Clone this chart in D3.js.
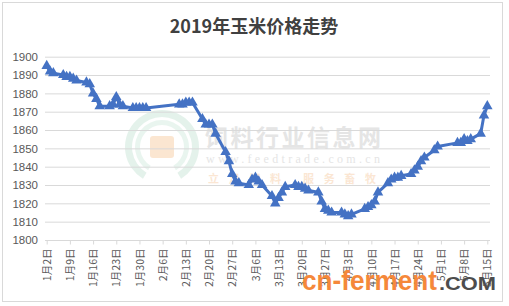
<!DOCTYPE html>
<html>
<head>
<meta charset="utf-8">
<script src="https://cdn.jsdelivr.net/npm/d3@7"></script>
<style>
  body { margin: 0; background: #fff; }
  svg { display: block; }
</style>
</head>
<body>
<svg id="chart" width="509" height="306"></svg>
<script>
(function(){

	// trading days (2019) and corn price
	var dates = [
		"01-02","01-03","01-04","01-07","01-08","01-09","01-10","01-11",
		"01-14","01-15","01-16","01-17","01-18","01-21","01-22","01-23","01-24","01-25",
		"01-28","01-29","01-30","01-31","02-01",
		"02-11","02-12","02-13","02-14","02-15",
		"02-18","02-19","02-20","02-21","02-22",
		"02-25","02-26","02-27","02-28","03-01",
		"03-04","03-05","03-06","03-07","03-08",
		"03-11","03-12","03-13","03-14","03-15",
		"03-18","03-19","03-20","03-21","03-22",
		"03-25","03-26","03-27","03-28","03-29",
		"04-01","04-02","04-03","04-04",
		"04-08","04-09","04-10","04-11","04-12",
		"04-15","04-16","04-17","04-18","04-19",
		"04-22","04-23","04-24","04-25","04-26",
		"04-29","04-30",
		"05-06","05-07","05-08","05-09","05-10",
		"05-13","05-14","05-15"
	];
	var prices = [
		1895,1892,1891,1890,1889,1889,1888,1887,
		1886,1885,1880,1877,1873,1873,1874,1878,1874,1873,
		1872,1872,1872,1872,1872,
		1874,1874,1875,1875,1875,
		1866,1863,1863,1863,1858,
		1848,1843,1836,1832,1831,
		1830,1833,1834,1832,1830,
		1824,1820,1823,1826,1829,
		1830,1829,1829,1828,1827,
		1826,1821,1817,1816,1815,
		1815,1814,1813,1814,
		1817,1818,1819,1821,1826,
		1831,1833,1834,1834,1835,
		1836,1838,1840,1843,1845,
		1849,1851,
		1853,1853,1855,1854,1855,
		1858,1868,1873
	];
	var tickDates = ["01-02","01-09","01-16","01-23","01-30","02-06","02-13","02-20","02-27",
		"03-06","03-13","03-20","03-27","04-03","04-10","04-17","04-24","05-01","05-08","05-15"];
	var yTicks = [1800,1810,1820,1830,1840,1850,1860,1870,1880,1890,1900];
	var title = "2019年玉米价格走势";

	var parse = d3.timeParse("%Y-%m-%d");
	function toDate(s){ return parse("2019-" + s); }

	var data = dates.map(function(d, i){ return { date : toDate(d), value : prices[i] }; });

	var svg = d3.select("#chart");

	svg.append("rect")
		.attr("x", 2.5).attr("y", 2.5)
		.attr("width", 500).attr("height", 299)
		.attr("fill", "#fff")
		.attr("stroke", "#d9d9d9");

	var x = d3.scaleTime()
		.domain([toDate("01-02"), toDate("05-15")])
		.range([46.7, 487.3]);

	var y = d3.scaleLinear()
		.domain([1800, 1900])
		.range([240, 56.7]);

	// watermark (faint)
	var wm = svg.append("g").attr("class", "watermark").attr("opacity", 0.55);
	var arc = d3.arc();
	[[30, 37, "#cfe8dc"], [22, 27, "#d8eee3"]].forEach(function(r){
		wm.append("path")
			.attr("transform", "translate(162,147)")
			.attr("d", arc({ innerRadius : r[0], outerRadius : r[1], startAngle : -2.6, endAngle : 2.6 }))
			.attr("fill", r[2]);
	});
	wm.append("rect").attr("x", 150).attr("y", 136).attr("width", 24).attr("height", 22)
		.attr("rx", 3).attr("fill", "#f9d2ad");
	wm.append("text").attr("x", 205).attr("y", 146)
		.attr("font-family", "Noto Sans CJK SC").attr("font-weight", "bold")
		.attr("font-size", 23).attr("fill", "#d0d0d0")
		.attr("textLength", 176).text("饲料行业信息网");
	wm.append("text").attr("x", 206).attr("y", 163)
		.attr("font-family", "Liberation Serif")
		.attr("font-size", 12).attr("fill", "#d0d0d0")
		.attr("textLength", 174).text("www.feedtrade.com.cn");
	wm.append("text").attr("x", 208).attr("y", 183)
		.attr("font-family", "Noto Sans CJK SC").attr("font-weight", "bold")
		.attr("font-size", 11).attr("fill", "#f8d3b0")
		.attr("textLength", 168).text("立足饲料  服务畜牧");

	// grid
	svg.append("g").selectAll("line").data(yTicks).enter().append("line")
		.attr("x1", 45).attr("x2", 490)
		.attr("y1", function(d){ return y(d) + 0.5; })
		.attr("y2", function(d){ return y(d) + 0.5; })
		.attr("stroke", "#d9d9d9")
		.attr("stroke-width", 1);

	// y axis labels
	var yAxis = d3.axisLeft(y).tickValues(yTicks).tickSize(0).tickPadding(7).tickFormat(d3.format("d"));
	svg.append("g")
		.attr("transform", "translate(45,0)")
		.call(yAxis)
		.call(function(g){ g.select(".domain").remove(); })
		.selectAll("text")
		.attr("font-family", "Liberation Sans")
		.attr("font-size", 11.5)
		.attr("fill", "#595959");

	// x axis
	var xAxis = d3.axisBottom(x)
		.tickValues(tickDates.map(toDate))
		.tickSize(4)
		.tickFormat(d3.timeFormat("%-m月%-d日"));
	var gx = svg.append("g")
		.attr("transform", "translate(0," + (y(1800) + 0.5) + ")")
		.call(xAxis);
	gx.select(".domain").attr("stroke", "#d9d9d9").attr("d", "M45,0H490");
	gx.selectAll(".tick line").attr("stroke", "#d9d9d9");
	gx.selectAll("text")
		.attr("font-family", "Noto Sans CJK SC")
		.attr("font-size", 10.5)
		.attr("fill", "#595959")
		.attr("text-anchor", "end")
		.attr("dy", "0.35em")
		.attr("transform", "translate(0,8) rotate(-90)")
		.attr("x", 0).attr("y", 0);

	// series
	var line = d3.line()
		.x(function(d){ return x(d.date); })
		.y(function(d){ return y(d.value); });

	svg.append("path")
		.datum(data)
		.attr("d", line)
		.attr("fill", "none")
		.attr("stroke", "#4472c4")
		.attr("stroke-width", 3)
		.attr("stroke-linejoin", "round");

	var tri = d3.symbol().type(d3.symbolTriangle).size(48);
	svg.append("g").selectAll("path").data(data).enter().append("path")
		.attr("d", tri)
		.attr("transform", function(d){ return "translate(" + x(d.date) + "," + y(d.value) + ")"; })
		.attr("fill", "#4472c4");

	// title
	svg.append("text")
		.attr("x", 254).attr("y", 33)
		.attr("text-anchor", "middle")
		.attr("font-family", "Noto Sans CJK SC")
		.attr("font-weight", "bold")
		.attr("font-size", 18)
		.attr("fill", "#404040")
		.text(title);

	// site stamp
	svg.append("text")
		.attr("x", 302).attr("y", 290)
		.attr("font-family", "Liberation Sans").attr("font-weight", "bold")
		.attr("font-size", 28).attr("fill", "#f5883a")
		.attr("textLength", 135).attr("lengthAdjust", "spacingAndGlyphs")
		.text("cn-ferment");
	svg.append("text")
		.attr("x", 439).attr("y", 290)
		.attr("font-family", "Liberation Sans").attr("font-weight", "bold")
		.attr("font-size", 19).attr("fill", "#4d4d4d")
		.attr("textLength", 57).attr("lengthAdjust", "spacingAndGlyphs")
		.text(".COM");

})();
</script>
</body>
</html>
